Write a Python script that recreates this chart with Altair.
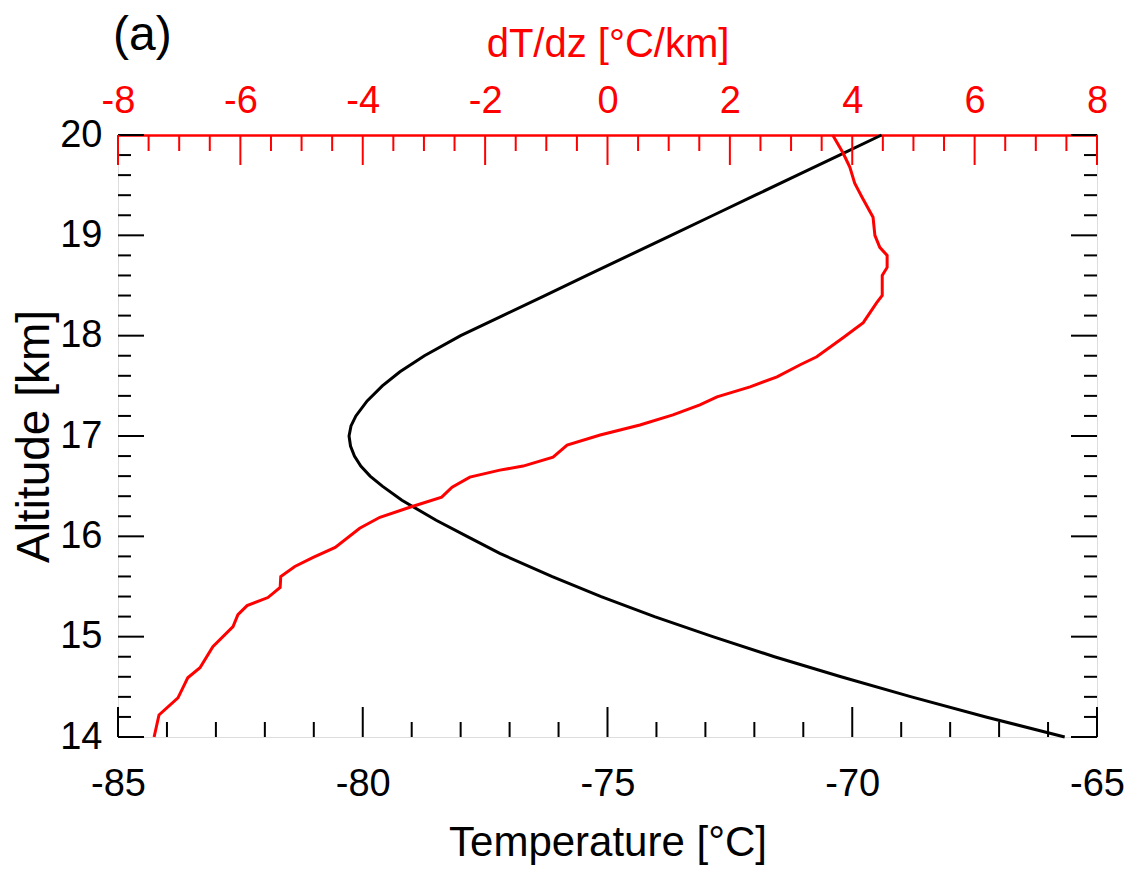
import altair as alt
import pandas as pd
import numpy as np

# Temperature profile (black) : altitude [km] / temperature [C]
temp_alt = [14.0, 14.2, 14.4, 14.6, 14.8, 15.0, 15.2, 15.4, 15.6, 15.83, 16.0, 16.16, 16.36,
            16.5, 16.6, 16.7, 16.8, 16.9, 17.0, 17.1, 17.2, 17.35, 17.5, 17.64, 17.8, 18.0,
            18.2, 18.4, 18.6, 18.8, 19.0, 19.2, 19.4, 19.6, 19.8, 20.0]
temp_val = [-65.66, -67.27, -68.79, -70.23, -71.59, -72.85, -74.04, -75.13, -76.14, -77.2,
            -77.87, -78.5, -79.2, -79.6, -79.85, -80.04, -80.17, -80.25, -80.28, -80.24,
            -80.14, -79.91, -79.6, -79.24, -78.74, -78.0, -77.14, -76.28, -75.42, -74.56,
            -73.7, -72.84, -71.98, -71.12, -70.26, -69.4]

# Lapse rate profile (red) : altitude [km] / dT/dz [C/km]
grad_alt = [14.0, 14.22, 14.39, 14.49, 14.59, 14.69, 14.9, 15.1, 15.22, 15.31, 15.39, 15.49,
            15.6, 15.7, 15.79, 15.89, 16.08, 16.19, 16.29, 16.39, 16.49, 16.59, 16.66, 16.7,
            16.79, 16.91, 17.01, 17.11, 17.21, 17.31, 17.39, 17.49, 17.59, 17.71, 17.79, 17.98,
            18.13, 18.33, 18.4, 18.6, 18.68, 18.8, 18.88, 19.0, 19.18, 19.38, 19.52, 19.68,
            19.82, 20.0]
grad_val = [-7.41, -7.33, -7.02, -6.94, -6.86, -6.66, -6.45, -6.12, -6.04, -5.89, -5.55, -5.35,
            -5.34, -5.11, -4.81, -4.45, -4.05, -3.72, -3.23, -2.71, -2.54, -2.25, -1.76, -1.38,
            -0.89, -0.66, -0.12, 0.53, 1.07, 1.51, 1.79, 2.33, 2.77, 3.15, 3.42, 3.85,
            4.18, 4.40, 4.49, 4.49, 4.57, 4.57, 4.45, 4.37, 4.34, 4.16, 4.04, 3.96,
            3.85, 3.68]

# Axis tick values
t_major = [-85, -80, -75, -70, -65]
t_minor = [v for v in range(-85, -64) if v % 5 != 0]
a_major = [14, 15, 16, 17, 18, 19, 20]
a_minor = [round(float(v), 1) for v in np.arange(14.0, 20.01, 0.2) if abs(v - round(v)) > 1e-6]
g_major = [-8, -6, -4, -2, 0, 2, 4, 6, 8]
g_minor = [float(v) for v in np.arange(-8, 8.01, 0.5) if v % 2 != 0]

W, H = 979, 602
FONT = "Liberation Sans"
RED = "#ff0000"
LBL = "'' + datum.value"

temp_df = pd.DataFrame({"alt": temp_alt, "T": temp_val})
grad_df = pd.DataFrame({"alt": grad_alt, "G": grad_val})

tscale = alt.Scale(domain=[-85, -65], nice=False, zero=False)
gscale = alt.Scale(domain=[-8, 8], nice=False, zero=False)
ascale = alt.Scale(domain=[14, 20], nice=False, zero=False)

t_axis = alt.Axis(values=t_major, ticks=False, domain=False, grid=False, labelExpr=LBL,
                  labelFont=FONT, labelFontSize=38, labelColor="black", labelPadding=28,
                  labelFlush=False, labelOverlap=False,
                  title="Temperature [°C]", titleFont=FONT, titleFontSize=42,
                  titleFontWeight="normal", titleColor="black", titlePadding=19)
g_axis = alt.Axis(orient="top", values=g_major, ticks=False, domain=True, labelExpr=LBL,
                  domainColor=RED, domainWidth=2.5, grid=False,
                  labelFont=FONT, labelFontSize=38, labelColor=RED, labelPadding=15,
                  labelFlush=False, labelOverlap=False,
                  title="dT/dz [°C/km]", titleFont=FONT, titleFontSize=40,
                  titleFontWeight="normal", titleColor=RED, titlePadding=18)
a_axis = alt.Axis(values=a_major, ticks=False, domain=False, grid=False, labelExpr=LBL,
                  labelFont=FONT, labelFontSize=38, labelColor="black", labelPadding=16,
                  labelFlush=False, labelOverlap=False,
                  title="Altitude [km]", titleFont=FONT, titleFontSize=46,
                  titleFontWeight="normal", titleColor="black", titlePadding=1)

X_T = alt.X("T:Q", scale=tscale, axis=t_axis)
X_G = alt.X("G:Q", scale=gscale, axis=g_axis)
Y_A = alt.Y("alt:Q", scale=ascale, axis=a_axis)

black_line = alt.Chart(temp_df).mark_line(color="black", strokeWidth=3).encode(
    x=X_T, y=Y_A, order=alt.Order("alt:Q"))

def xticks(values, field, xdef, top, length, color):
    df = pd.DataFrame({field: values})
    if top:
        return alt.Chart(df).mark_rule(color=color, strokeWidth=2).encode(
            x=xdef, y=alt.value(0), y2=alt.value(length))
    return alt.Chart(df).mark_rule(color=color, strokeWidth=2).encode(
        x=xdef, y=alt.value(H), y2=alt.value(H - length))

def yticks(values, right, length):
    df = pd.DataFrame({"alt": values})
    if right:
        return alt.Chart(df).mark_rule(color="black", strokeWidth=2).encode(
            y=Y_A, x=alt.value(W), x2=alt.value(W - length))
    return alt.Chart(df).mark_rule(color="black", strokeWidth=2).encode(
        y=Y_A, x=alt.value(0), x2=alt.value(length))

temp_layer = alt.layer(
    black_line,
    xticks(t_major, "T", X_T, False, 30, "black"),
    xticks(t_minor, "T", X_T, False, 15, "black"),
    yticks(a_major, False, 26),
    yticks(a_minor, False, 13),
    yticks(a_major, True, 26),
    yticks(a_minor, True, 13),
)

red_line = alt.Chart(grad_df).mark_line(color=RED, strokeWidth=3).encode(
    x=X_G, y=Y_A, order=alt.Order("alt:Q"))

red_layer = alt.layer(
    red_line,
    xticks(g_major, "G", X_G, True, 30, RED),
    xticks(g_minor, "G", X_G, True, 16, RED),
)

panel = alt.Chart(pd.DataFrame({"label": ["(a)"]})).mark_text(
    font=FONT, fontSize=48, align="left", baseline="alphabetic", color="black"
).encode(x=alt.value(-5), y=alt.value(-85), text="label:N")

chart = alt.layer(temp_layer, red_layer, panel).resolve_scale(x="independent").properties(
    width=W, height=H,
    autosize=alt.AutoSizeParams(type="none"),
    padding={"left": 110, "top": 127, "right": 28, "bottom": 133},
).configure_view(stroke="black", strokeWidth=2.5).configure(background="white")

chart.save("out.html", embed_options={"renderer": "svg", "actions": False})
